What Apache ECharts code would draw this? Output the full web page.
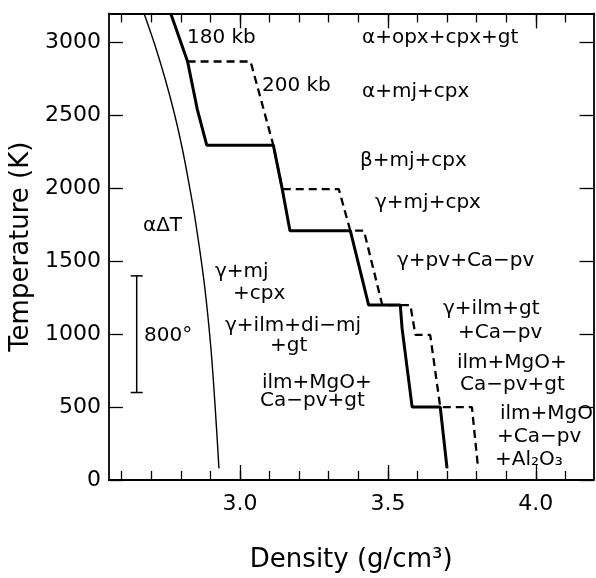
<!DOCTYPE html>
<html>
<head>
<meta charset="utf-8">
<script src="https://cdn.jsdelivr.net/npm/echarts@6/dist/echarts.min.js"></script>
<style>
  html, body { margin: 0; background: #fff; }
  #chart { width: 596px; height: 578px; }
</style>
</head>
<body>
<div id="chart"></div>
<script>
// density (g/cm3), temperature (K)
const alphaDT = [[2.676, 3200], [2.713, 2980], [2.748, 2745], [2.780, 2500], [2.806, 2265],
  [2.827, 2040], [2.847, 1810], [2.879, 1355], [2.902, 900], [2.918, 445], [2.929, 80]]
const kb180 = [[2.766, 3200], [2.823, 2870], [2.856, 2540], [2.888, 2295], [3.113, 2295],
  [3.143, 1995], [3.169, 1710], [3.373, 1710], [3.435, 1200], [3.542, 1200], [3.548, 1040],
  [3.582, 500], [3.677, 500], [3.700, 80]]
const kb200 = [[2.823, 2870], [3.036, 2870], [3.113, 2295], [3.143, 1995], [3.334, 1995],
  [3.373, 1710], [3.419, 1710], [3.481, 1200], [3.576, 1200], [3.593, 995], [3.643, 995],
  [3.677, 500], [3.784, 500], [3.805, 80]]
// x, low T, high T of the 800 degree bar
const scaleBar = [[2.651, 600, 1400]]

const xMinorTicks = [2.6, 2.7, 2.8, 2.9, 3.0, 3.1, 3.2, 3.3, 3.4, 3.5, 3.6, 3.7, 3.8, 3.9, 4.0, 4.1]
const xMajorTicks = [3.0, 3.5, 4.0]
const yTicks = [0, 500, 1000, 1500, 2000, 2500, 3000]

// text, left, middle y
const notes = [
  ['180 kb', 187, 38],
  ['200 kb', 262, 86],
  ['α+opx+cpx+gt', 362, 38],
  ['α+mj+cpx', 362, 92],
  ['β+mj+cpx', 360, 161],
  ['γ+mj+cpx', 375, 203],
  ['γ+pv+Ca−pv', 397, 261],
  ['γ+ilm+gt', 443, 309],
  ['+Ca−pv', 458, 333],
  ['ilm+MgO+', 457, 363],
  ['Ca−pv+gt', 460, 385],
  ['ilm+MgO', 500, 414],
  ['+Ca−pv', 497, 437],
  ['+Al₂O₃', 495, 460],
  ['γ+mj', 215, 272],
  ['+cpx', 233, 294],
  ['γ+ilm+di−mj', 225, 326],
  ['+gt', 270, 346],
  ['ilm+MgO+', 262, 383],
  ['Ca−pv+gt', 260, 401],
  ['αΔT', 143, 226],
  ['800°', 144, 336],
]

const FONT = 'DejaVu Sans'
const XMIN = 2.557
const XMAX = 4.195

function xAxisDef(position, ticks, len, withLine, extra) {
  return Object.assign({
    type: 'value',
    position,
    min: XMIN,
    max: XMAX,
    axisLine: { show: withLine, onZero: false, lineStyle: { color: '#000', width: 1.8 } },
    axisTick: { inside: true, length: len, customValues: ticks, lineStyle: { color: '#000', width: 1.3 } },
    axisLabel: { show: false },
    splitLine: { show: false },
  }, extra || {})
}

function yAxisDef(position, extra) {
  return Object.assign({
    type: 'value',
    position,
    min: 0,
    max: 3200,
    axisLine: { show: true, onZero: false, lineStyle: { color: '#000', width: 1.8 } },
    axisTick: { inside: true, length: 14, customValues: yTicks, lineStyle: { color: '#000', width: 1.3 } },
    axisLabel: { show: false },
    splitLine: { show: false },
  }, extra || {})
}

const chart = echarts.init(document.getElementById('chart'))
chart.setOption({
  animation: false,
  backgroundColor: '#fff',
  grid: { left: 108, right: 2.5, top: 13.4, bottom: 96 },
  xAxis: [
    xAxisDef('bottom', xMinorTicks, 9, true, {
      axisLabel: {
        customValues: xMajorTicks,
        formatter: (v) => v.toFixed(1),
        fontSize: 22,
        fontFamily: FONT,
        color: '#000',
        margin: 13,
      },
      name: 'Density (g/cm³)',
      nameLocation: 'middle',
      nameGap: 67,
      nameTextStyle: { fontSize: 26, fontFamily: FONT, color: '#000' },
    }),
    xAxisDef('bottom', xMajorTicks, 15, false),
    xAxisDef('top', xMinorTicks, 9, true),
    xAxisDef('top', xMajorTicks, 15, false),
  ],
  yAxis: [
    yAxisDef('left', {
      axisLabel: {
        customValues: yTicks,
        formatter: (v) => String(v),
        fontSize: 22,
        fontFamily: FONT,
        color: '#000',
        margin: 8,
      },
      name: 'Temperature (K)',
      nameLocation: 'middle',
      nameGap: 65,
      nameTextStyle: { fontSize: 26, fontFamily: FONT, color: '#000' },
    }),
    yAxisDef('right'),
  ],
  series: [
    {
      type: 'line',
      data: alphaDT,
      smooth: 0.3,
      symbol: 'none',
      lineStyle: { color: '#000', width: 1.4 },
    },
    {
      type: 'line',
      data: kb200,
      symbol: 'none',
      lineStyle: { color: '#000', width: 2.3, type: [8, 5] },
    },
    {
      type: 'line',
      data: kb180,
      symbol: 'none',
      lineStyle: { color: '#000', width: 3 },
    },
    {
      type: 'custom',
      data: scaleBar,
      renderItem(params, api) {
        const hi = api.coord([api.value(0), api.value(2)])
        const lo = api.coord([api.value(0), api.value(1)])
        const w = 6
        const style = { stroke: '#000', lineWidth: 1.5 }
        return {
          type: 'group',
          children: [
            { type: 'line', shape: { x1: hi[0], y1: hi[1], x2: lo[0], y2: lo[1] }, style },
            { type: 'line', shape: { x1: hi[0] - w, y1: hi[1], x2: hi[0] + w, y2: hi[1] }, style },
            { type: 'line', shape: { x1: lo[0] - w, y1: lo[1], x2: lo[0] + w, y2: lo[1] }, style },
          ],
        }
      },
    },
  ],
  graphic: notes.map((n) => ({
    type: 'text',
    x: n[1],
    y: n[2],
    style: {
      text: n[0],
      fontSize: 20,
      fontFamily: FONT,
      fill: '#000',
      align: 'left',
      verticalAlign: 'middle',
    },
  })),
})
</script>
</body>
</html>
